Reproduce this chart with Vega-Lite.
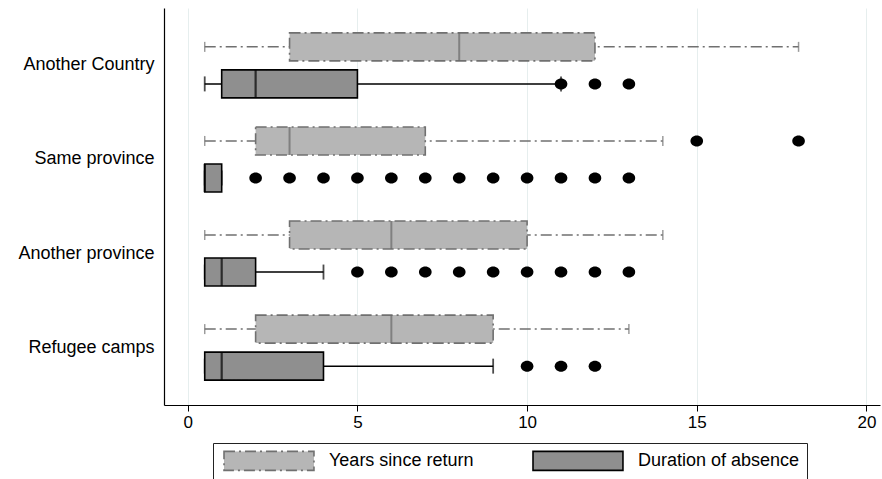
{
  "$schema": "https://vega.github.io/schema/vega-lite/v6.json",
  "width": 716,
  "height": 397,
  "autosize": "none",
  "padding": {"left": 164, "top": 8, "right": 2, "bottom": 74},
  "background": "white",
  "config": {
    "view": {"stroke": null},
    "font": "Liberation Sans",
    "axis": {"labelFont": "Liberation Sans", "labelColor": "black", "domainColor": "black", "tickColor": "black"},
    "legend": {
      "title": null, "orient": "none", "legendX": 49, "legendY": 435,
      "direction": "horizontal", "columns": 2, "columnPadding": 55,
      "symbolType": "M-1,-1H8.47V1H-1Z", "symbolSize": 361, "symbolStrokeWidth": 1.6, "symbolOffset": 3,
      "labelFontSize": 18, "labelFont": "Liberation Sans", "labelColor": "black", "labelOffset": 85, "labelLimit": 400,
      "strokeColor": "#222222", "padding": 7
    }
  },
  "datasets": {
    "boxes": [
      {"cat": "Another Country", "series": "Years since return", "lo": 0.5, "q1": 3, "med": 8, "q3": 12, "hi": 18},
      {"cat": "Another Country", "series": "Duration of absence", "lo": 0.5, "q1": 1, "med": 2, "q3": 5, "hi": 11},
      {"cat": "Same province", "series": "Years since return", "lo": 0.5, "q1": 2, "med": 3, "q3": 7, "hi": 14},
      {"cat": "Same province", "series": "Duration of absence", "lo": 0.5, "q1": 0.5, "med": 0.5, "q3": 1, "hi": 1},
      {"cat": "Another province", "series": "Years since return", "lo": 0.5, "q1": 3, "med": 6, "q3": 10, "hi": 14},
      {"cat": "Another province", "series": "Duration of absence", "lo": 0.5, "q1": 0.5, "med": 1, "q3": 2, "hi": 4},
      {"cat": "Refugee camps", "series": "Years since return", "lo": 0.5, "q1": 2, "med": 6, "q3": 9, "hi": 13},
      {"cat": "Refugee camps", "series": "Duration of absence", "lo": 0.5, "q1": 0.5, "med": 1, "q3": 4, "hi": 9}
    ],
    "outliers": [
      {"cat": "Another Country", "series": "Duration of absence", "v": 11},
      {"cat": "Another Country", "series": "Duration of absence", "v": 12},
      {"cat": "Another Country", "series": "Duration of absence", "v": 13},
      {"cat": "Same province", "series": "Years since return", "v": 15},
      {"cat": "Same province", "series": "Years since return", "v": 18},
      {"cat": "Same province", "series": "Duration of absence", "v": 2},
      {"cat": "Same province", "series": "Duration of absence", "v": 3},
      {"cat": "Same province", "series": "Duration of absence", "v": 4},
      {"cat": "Same province", "series": "Duration of absence", "v": 5},
      {"cat": "Same province", "series": "Duration of absence", "v": 6},
      {"cat": "Same province", "series": "Duration of absence", "v": 7},
      {"cat": "Same province", "series": "Duration of absence", "v": 8},
      {"cat": "Same province", "series": "Duration of absence", "v": 9},
      {"cat": "Same province", "series": "Duration of absence", "v": 10},
      {"cat": "Same province", "series": "Duration of absence", "v": 11},
      {"cat": "Same province", "series": "Duration of absence", "v": 12},
      {"cat": "Same province", "series": "Duration of absence", "v": 13},
      {"cat": "Another province", "series": "Duration of absence", "v": 5},
      {"cat": "Another province", "series": "Duration of absence", "v": 6},
      {"cat": "Another province", "series": "Duration of absence", "v": 7},
      {"cat": "Another province", "series": "Duration of absence", "v": 8},
      {"cat": "Another province", "series": "Duration of absence", "v": 9},
      {"cat": "Another province", "series": "Duration of absence", "v": 10},
      {"cat": "Another province", "series": "Duration of absence", "v": 11},
      {"cat": "Another province", "series": "Duration of absence", "v": 12},
      {"cat": "Another province", "series": "Duration of absence", "v": 13},
      {"cat": "Refugee camps", "series": "Duration of absence", "v": 10},
      {"cat": "Refugee camps", "series": "Duration of absence", "v": 11},
      {"cat": "Refugee camps", "series": "Duration of absence", "v": 12}
    ]
  },
  "encoding": {
    "y": {
      "field": "cat", "type": "nominal", "title": null,
      "sort": ["Another Country", "Same province", "Another province", "Refugee camps"],
      "scale": {"domain": ["Another Country", "Same province", "Another province", "Refugee camps"], "paddingInner": 0, "paddingOuter": 0.11},
      "axis": {"ticks": false, "labelFontSize": 18, "labelPadding": 10, "domainWidth": 1.2, "grid": false}
    },
    "yOffset": {
      "field": "series", "type": "nominal",
      "scale": {"domain": ["Years since return", "Duration of absence"], "paddingInner": 0, "paddingOuter": 0.27}
    }
  },
  "layer": [
    {
      "data": {"name": "boxes"},
      "mark": {"type": "rule", "strokeWidth": 1.5},
      "encoding": {
        "x": {
          "field": "lo", "type": "quantitative", "title": null,
          "scale": {"domain": [-0.7, 20.4], "nice": false, "zero": false},
          "axis": {"values": [0, 5, 10, 15, 20], "labelFontSize": 17, "tickSize": 6, "labelPadding": 3, "grid": true, "gridColor": "#e6eeee", "domainWidth": 1.2}
        },
        "x2": {"field": "hi"},
        "stroke": {"field": "series", "type": "nominal", "scale": {"domain": ["Years since return", "Duration of absence"], "range": ["#707070", "#000000"]}},
        "strokeDash": {"field": "series", "type": "nominal", "scale": {"domain": ["Years since return", "Duration of absence"], "range": [[11, 4, 2, 4], [1, 0]]}}
      }
    },
    {
      "data": {"name": "boxes"},
      "transform": [{"filter": "datum.series == 'Years since return'"}, {"fold": ["lo", "hi"], "as": ["end", "val"]}],
      "mark": {"type": "tick", "size": 10, "thickness": 1.5, "color": "#707070"},
      "encoding": {"x": {"field": "val", "type": "quantitative"}}
    },
    {
      "data": {"name": "boxes"},
      "transform": [{"filter": "datum.series == 'Duration of absence'"}, {"fold": ["lo", "hi"], "as": ["end", "val"]}],
      "mark": {"type": "tick", "size": 15, "thickness": 1.8, "color": "#000000"},
      "encoding": {"x": {"field": "val", "type": "quantitative"}}
    },
    {
      "data": {"name": "boxes"},
      "mark": {"type": "bar", "size": 28, "strokeWidth": 1.6},
      "encoding": {
        "x": {"field": "q1", "type": "quantitative"},
        "x2": {"field": "q3"},
        "fill": {
          "field": "series", "type": "nominal",
          "scale": {"domain": ["Years since return", "Duration of absence"], "range": ["#b6b6b6", "#8f8f8f"]}
        },
        "stroke": {"field": "series", "type": "nominal"},
        "strokeDash": {"field": "series", "type": "nominal"}
      }
    },
    {
      "data": {"name": "boxes"},
      "transform": [{"filter": "datum.series == 'Years since return'"}],
      "mark": {"type": "tick", "size": 28, "thickness": 2, "color": "#6a6a6a"},
      "encoding": {"x": {"field": "med", "type": "quantitative"}}
    },
    {
      "data": {"name": "boxes"},
      "transform": [{"filter": "datum.series == 'Duration of absence'"}],
      "mark": {"type": "tick", "size": 28, "thickness": 2.2, "color": "#000000"},
      "encoding": {"x": {"field": "med", "type": "quantitative"}}
    },
    {
      "data": {"name": "outliers"},
      "mark": {"type": "point", "filled": true, "shape": "M-1.15,0A1.15,1,0,1,0,1.15,0A1.15,1,0,1,0,-1.15,0Z", "size": 121, "color": "#000000", "opacity": 1},
      "encoding": {"x": {"field": "v", "type": "quantitative"}}
    }
  ]
}
